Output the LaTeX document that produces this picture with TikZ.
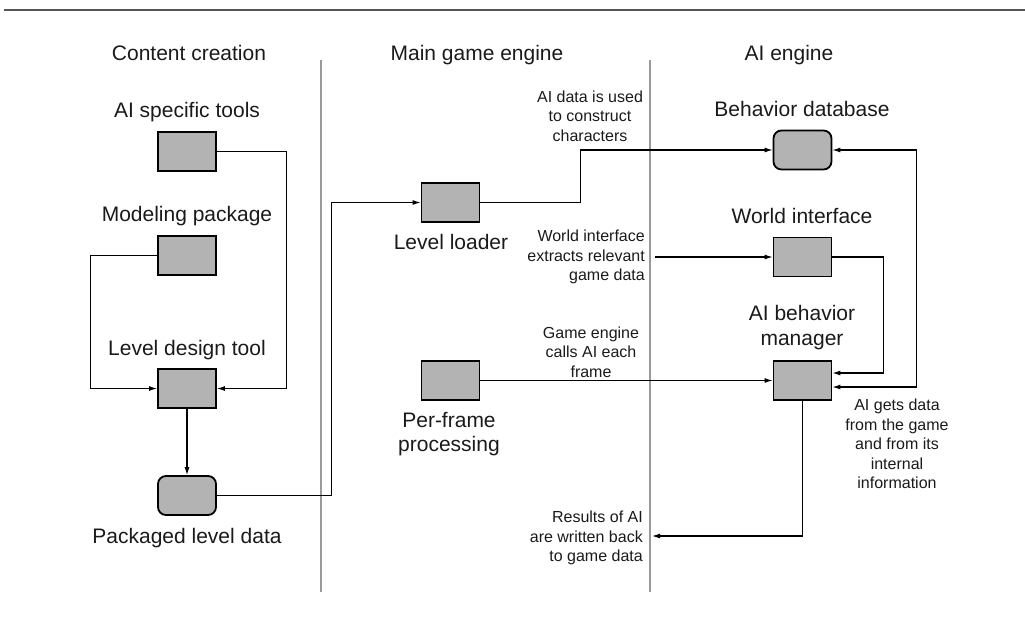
\documentclass[tikz,border=0pt]{standalone}
\usepackage{fontspec}
\setmainfont{Liberation Sans}
\usetikzlibrary{arrows.meta}
\definecolor{boxgray}{HTML}{B3B3B3}
\definecolor{divgray}{HTML}{9A9A9A}
\definecolor{rulegray}{HTML}{555555}
\definecolor{txt}{HTML}{1A1A1A}
\begin{document}
\begin{tikzpicture}[x=1pt,y=-1pt,
  box/.style={draw=black,line width=1.8pt,fill=boxgray,minimum width=58pt,minimum height=39pt,inner sep=0pt},
  rbox/.style={box,rounded corners=8pt},
  lbl/.style={font=\fontsize{21}{24.5}\selectfont,inner sep=0pt,text=txt,align=center},
  note/.style={font=\fontsize{16}{19.5}\selectfont,inner sep=0pt,text=txt},
  conn/.style={line width=1.1pt},
  arr/.style={conn,-{Latex[length=8pt,width=5pt]}},
  biarr/.style={conn,{Latex[length=8pt,width=5pt]}-{Latex[length=8pt,width=5pt]}},
  divider/.style={draw=divgray,line width=2pt}]
\useasboundingbox (0,0) rectangle (1025,622);
% top rule and dividers
\coordinate (r1) at (4,10);
\coordinate (r2) at (1025,10);
\draw[draw=rulegray,line width=2pt] (r1) -- (r2);
\coordinate (d1t) at (321,60);
\coordinate (d1b) at (321,592);
\coordinate (d2t) at (650,60);
\coordinate (d2b) at (650,592);
\draw[divider] (d1t) -- (d1b);
\draw[divider] (d2t) -- (d2b);
% headers
\node[lbl,anchor=base] (h1) at (189,60) {Content creation};
\node[lbl,anchor=base] (h2) at (477,60) {Main game engine};
\node[lbl,anchor=base] (h3) at (789,60) {AI engine};
% boxes
\node[box] (tools) at (187,151.5) {};
\node[box] (model) at (187,255.5) {};
\node[box] (ldt) at (187,388.5) {};
\node[rbox] (pld) at (187,495.5) {};
\node[box] (loader) at (450.5,202.5) {};
\node[box] (pf) at (450.5,380.5) {};
\node[rbox] (bdb) at (802.5,150) {};
\node[box] (wi) at (802.5,257) {};
\node[box] (mgr) at (802.5,380.5) {};
% box labels
\node[lbl,anchor=base] (ltools) at (187,117) {AI specific tools};
\node[lbl,anchor=base] (lmodel) at (187,221) {Modeling package};
\node[lbl,anchor=base] (lldt) at (187,355) {Level design tool};
\node[lbl,anchor=base] (lpld) at (187,543) {Packaged level data};
\node[lbl,anchor=base] (lloader) at (451,249) {Level loader};
\node[lbl] (lpf) at (449,434) {Per-frame\\processing};
\node[lbl,anchor=base] (lbdb) at (802,116) {Behavior database};
\node[lbl,anchor=base] (lwi) at (802,223) {World interface};
\node[lbl] (lmgr) at (802,327.5) {AI behavior\\manager};
% notes
\node[note,align=center] (n1) at (590,116) {AI data is used\\to construct\\characters};
\node[note,align=right,anchor=east] (n2) at (645,257) {World interface\\extracts relevant\\game data};
\node[note,align=center] (n3) at (591,352) {Game engine\\calls AI each\\frame};
\node[note,align=center] (n4) at (897,444) {AI gets data\\from the game\\and from its\\internal\\information};
\node[note,align=right,anchor=east] (n5) at (643,538) {Results of AI\\are written back\\to game data};
% connectors
\draw[arr] (tools.east) -- ++(70,0) |- (ldt.east);
\draw[arr] (model.west) -- ++(-67,0) |- (ldt.west);
\draw[arr] (ldt.south) -- (pld.north);
\draw[arr] (pld.east) -- ++(115,0) |- (loader.west);
\draw[arr] (loader.east) -- ++(100,0) |- (bdb.west);
\coordinate (wiin) at (655,257);
\draw[arr] (wiin) -- (wi.west);
\draw[arr] (wi.east) -- ++(51,0) |- ([yshift=7.5pt]mgr.east);
\draw[arr] (pf.east) -- (mgr.west);
\draw[biarr] (bdb.east) -- ++(84,0) |- ([yshift=-6.5pt]mgr.east);
\coordinate (res) at (652,536);
\draw[arr] (mgr.south) |- (res);
\end{tikzpicture}
\end{document}
